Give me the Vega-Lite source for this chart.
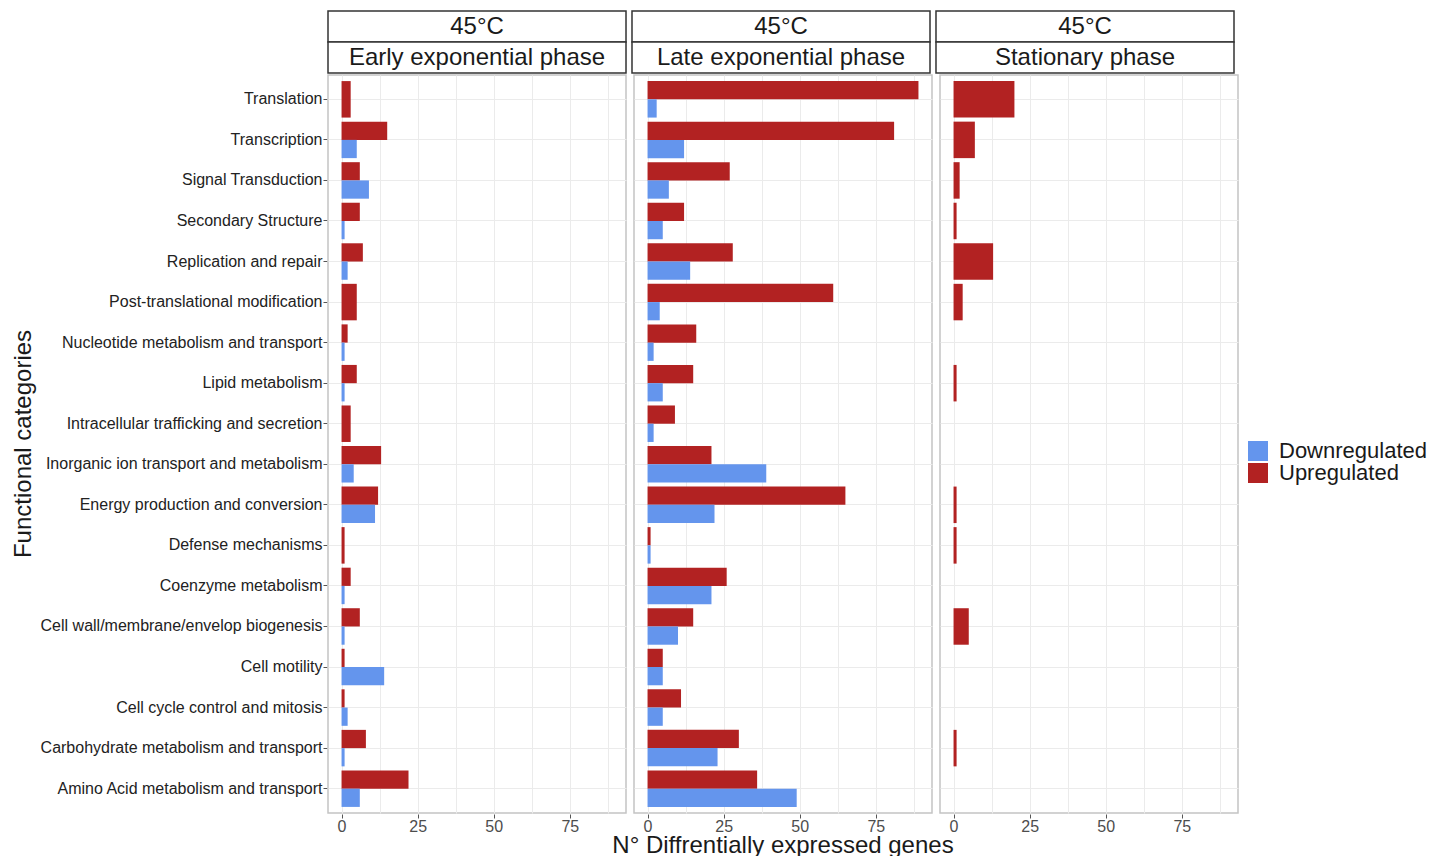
{
  "$schema": "https://vega.github.io/schema/vega-lite/v6.json",
  "padding": {"left": 12, "top": 10, "right": 5, "bottom": 0},
  "background": "white",
  "config": {
    "font": "Liberation Sans",
    "view": {"stroke": "#c4c4c4", "strokeWidth": 1.5},
    "axis": {"titleFontWeight": "normal"}
  },
  "datasets": {
    "strips": [
      {"phase": "Early exponential phase", "level": "temp", "label": "45°C"},
      {"phase": "Early exponential phase", "level": "phase", "label": "Early exponential phase"},
      {"phase": "Late exponential phase", "level": "temp", "label": "45°C"},
      {"phase": "Late exponential phase", "level": "phase", "label": "Late exponential phase"},
      {"phase": "Stationary phase", "level": "temp", "label": "45°C"},
      {"phase": "Stationary phase", "level": "phase", "label": "Stationary phase"}
    ],
    "genes": [
      {"temp": "45°C", "phase": "Early exponential phase", "category": "Translation", "status": "Upregulated", "genes": 3},
      {"temp": "45°C", "phase": "Early exponential phase", "category": "Transcription", "status": "Upregulated", "genes": 15},
      {"temp": "45°C", "phase": "Early exponential phase", "category": "Transcription", "status": "Downregulated", "genes": 5},
      {"temp": "45°C", "phase": "Early exponential phase", "category": "Signal Transduction", "status": "Upregulated", "genes": 6},
      {"temp": "45°C", "phase": "Early exponential phase", "category": "Signal Transduction", "status": "Downregulated", "genes": 9},
      {"temp": "45°C", "phase": "Early exponential phase", "category": "Secondary Structure", "status": "Upregulated", "genes": 6},
      {"temp": "45°C", "phase": "Early exponential phase", "category": "Secondary Structure", "status": "Downregulated", "genes": 1},
      {"temp": "45°C", "phase": "Early exponential phase", "category": "Replication and repair", "status": "Upregulated", "genes": 7},
      {"temp": "45°C", "phase": "Early exponential phase", "category": "Replication and repair", "status": "Downregulated", "genes": 2},
      {"temp": "45°C", "phase": "Early exponential phase", "category": "Post-translational modification", "status": "Upregulated", "genes": 5},
      {"temp": "45°C", "phase": "Early exponential phase", "category": "Nucleotide metabolism and transport", "status": "Upregulated", "genes": 2},
      {"temp": "45°C", "phase": "Early exponential phase", "category": "Nucleotide metabolism and transport", "status": "Downregulated", "genes": 1},
      {"temp": "45°C", "phase": "Early exponential phase", "category": "Lipid metabolism", "status": "Upregulated", "genes": 5},
      {"temp": "45°C", "phase": "Early exponential phase", "category": "Lipid metabolism", "status": "Downregulated", "genes": 1},
      {"temp": "45°C", "phase": "Early exponential phase", "category": "Intracellular trafficking and secretion", "status": "Upregulated", "genes": 3},
      {"temp": "45°C", "phase": "Early exponential phase", "category": "Inorganic ion transport and metabolism", "status": "Upregulated", "genes": 13},
      {"temp": "45°C", "phase": "Early exponential phase", "category": "Inorganic ion transport and metabolism", "status": "Downregulated", "genes": 4},
      {"temp": "45°C", "phase": "Early exponential phase", "category": "Energy production and conversion", "status": "Upregulated", "genes": 12},
      {"temp": "45°C", "phase": "Early exponential phase", "category": "Energy production and conversion", "status": "Downregulated", "genes": 11},
      {"temp": "45°C", "phase": "Early exponential phase", "category": "Defense mechanisms", "status": "Upregulated", "genes": 1},
      {"temp": "45°C", "phase": "Early exponential phase", "category": "Coenzyme metabolism", "status": "Upregulated", "genes": 3},
      {"temp": "45°C", "phase": "Early exponential phase", "category": "Coenzyme metabolism", "status": "Downregulated", "genes": 1},
      {"temp": "45°C", "phase": "Early exponential phase", "category": "Cell wall/membrane/envelop biogenesis", "status": "Upregulated", "genes": 6},
      {"temp": "45°C", "phase": "Early exponential phase", "category": "Cell wall/membrane/envelop biogenesis", "status": "Downregulated", "genes": 1},
      {"temp": "45°C", "phase": "Early exponential phase", "category": "Cell motility", "status": "Upregulated", "genes": 1},
      {"temp": "45°C", "phase": "Early exponential phase", "category": "Cell motility", "status": "Downregulated", "genes": 14},
      {"temp": "45°C", "phase": "Early exponential phase", "category": "Cell cycle control and mitosis", "status": "Upregulated", "genes": 1},
      {"temp": "45°C", "phase": "Early exponential phase", "category": "Cell cycle control and mitosis", "status": "Downregulated", "genes": 2},
      {"temp": "45°C", "phase": "Early exponential phase", "category": "Carbohydrate metabolism and transport", "status": "Upregulated", "genes": 8},
      {"temp": "45°C", "phase": "Early exponential phase", "category": "Carbohydrate metabolism and transport", "status": "Downregulated", "genes": 1},
      {"temp": "45°C", "phase": "Early exponential phase", "category": "Amino Acid metabolism and transport", "status": "Upregulated", "genes": 22},
      {"temp": "45°C", "phase": "Early exponential phase", "category": "Amino Acid metabolism and transport", "status": "Downregulated", "genes": 6},

      {"temp": "45°C", "phase": "Late exponential phase", "category": "Translation", "status": "Upregulated", "genes": 89},
      {"temp": "45°C", "phase": "Late exponential phase", "category": "Translation", "status": "Downregulated", "genes": 3},
      {"temp": "45°C", "phase": "Late exponential phase", "category": "Transcription", "status": "Upregulated", "genes": 81},
      {"temp": "45°C", "phase": "Late exponential phase", "category": "Transcription", "status": "Downregulated", "genes": 12},
      {"temp": "45°C", "phase": "Late exponential phase", "category": "Signal Transduction", "status": "Upregulated", "genes": 27},
      {"temp": "45°C", "phase": "Late exponential phase", "category": "Signal Transduction", "status": "Downregulated", "genes": 7},
      {"temp": "45°C", "phase": "Late exponential phase", "category": "Secondary Structure", "status": "Upregulated", "genes": 12},
      {"temp": "45°C", "phase": "Late exponential phase", "category": "Secondary Structure", "status": "Downregulated", "genes": 5},
      {"temp": "45°C", "phase": "Late exponential phase", "category": "Replication and repair", "status": "Upregulated", "genes": 28},
      {"temp": "45°C", "phase": "Late exponential phase", "category": "Replication and repair", "status": "Downregulated", "genes": 14},
      {"temp": "45°C", "phase": "Late exponential phase", "category": "Post-translational modification", "status": "Upregulated", "genes": 61},
      {"temp": "45°C", "phase": "Late exponential phase", "category": "Post-translational modification", "status": "Downregulated", "genes": 4},
      {"temp": "45°C", "phase": "Late exponential phase", "category": "Nucleotide metabolism and transport", "status": "Upregulated", "genes": 16},
      {"temp": "45°C", "phase": "Late exponential phase", "category": "Nucleotide metabolism and transport", "status": "Downregulated", "genes": 2},
      {"temp": "45°C", "phase": "Late exponential phase", "category": "Lipid metabolism", "status": "Upregulated", "genes": 15},
      {"temp": "45°C", "phase": "Late exponential phase", "category": "Lipid metabolism", "status": "Downregulated", "genes": 5},
      {"temp": "45°C", "phase": "Late exponential phase", "category": "Intracellular trafficking and secretion", "status": "Upregulated", "genes": 9},
      {"temp": "45°C", "phase": "Late exponential phase", "category": "Intracellular trafficking and secretion", "status": "Downregulated", "genes": 2},
      {"temp": "45°C", "phase": "Late exponential phase", "category": "Inorganic ion transport and metabolism", "status": "Upregulated", "genes": 21},
      {"temp": "45°C", "phase": "Late exponential phase", "category": "Inorganic ion transport and metabolism", "status": "Downregulated", "genes": 39},
      {"temp": "45°C", "phase": "Late exponential phase", "category": "Energy production and conversion", "status": "Upregulated", "genes": 65},
      {"temp": "45°C", "phase": "Late exponential phase", "category": "Energy production and conversion", "status": "Downregulated", "genes": 22},
      {"temp": "45°C", "phase": "Late exponential phase", "category": "Defense mechanisms", "status": "Upregulated", "genes": 1},
      {"temp": "45°C", "phase": "Late exponential phase", "category": "Defense mechanisms", "status": "Downregulated", "genes": 1},
      {"temp": "45°C", "phase": "Late exponential phase", "category": "Coenzyme metabolism", "status": "Upregulated", "genes": 26},
      {"temp": "45°C", "phase": "Late exponential phase", "category": "Coenzyme metabolism", "status": "Downregulated", "genes": 21},
      {"temp": "45°C", "phase": "Late exponential phase", "category": "Cell wall/membrane/envelop biogenesis", "status": "Upregulated", "genes": 15},
      {"temp": "45°C", "phase": "Late exponential phase", "category": "Cell wall/membrane/envelop biogenesis", "status": "Downregulated", "genes": 10},
      {"temp": "45°C", "phase": "Late exponential phase", "category": "Cell motility", "status": "Upregulated", "genes": 5},
      {"temp": "45°C", "phase": "Late exponential phase", "category": "Cell motility", "status": "Downregulated", "genes": 5},
      {"temp": "45°C", "phase": "Late exponential phase", "category": "Cell cycle control and mitosis", "status": "Upregulated", "genes": 11},
      {"temp": "45°C", "phase": "Late exponential phase", "category": "Cell cycle control and mitosis", "status": "Downregulated", "genes": 5},
      {"temp": "45°C", "phase": "Late exponential phase", "category": "Carbohydrate metabolism and transport", "status": "Upregulated", "genes": 30},
      {"temp": "45°C", "phase": "Late exponential phase", "category": "Carbohydrate metabolism and transport", "status": "Downregulated", "genes": 23},
      {"temp": "45°C", "phase": "Late exponential phase", "category": "Amino Acid metabolism and transport", "status": "Upregulated", "genes": 36},
      {"temp": "45°C", "phase": "Late exponential phase", "category": "Amino Acid metabolism and transport", "status": "Downregulated", "genes": 49},

      {"temp": "45°C", "phase": "Stationary phase", "category": "Translation", "status": "Upregulated", "genes": 20},
      {"temp": "45°C", "phase": "Stationary phase", "category": "Transcription", "status": "Upregulated", "genes": 7},
      {"temp": "45°C", "phase": "Stationary phase", "category": "Signal Transduction", "status": "Upregulated", "genes": 2},
      {"temp": "45°C", "phase": "Stationary phase", "category": "Secondary Structure", "status": "Upregulated", "genes": 1},
      {"temp": "45°C", "phase": "Stationary phase", "category": "Replication and repair", "status": "Upregulated", "genes": 13},
      {"temp": "45°C", "phase": "Stationary phase", "category": "Post-translational modification", "status": "Upregulated", "genes": 3},
      {"temp": "45°C", "phase": "Stationary phase", "category": "Lipid metabolism", "status": "Upregulated", "genes": 1},
      {"temp": "45°C", "phase": "Stationary phase", "category": "Energy production and conversion", "status": "Upregulated", "genes": 1},
      {"temp": "45°C", "phase": "Stationary phase", "category": "Defense mechanisms", "status": "Upregulated", "genes": 1},
      {"temp": "45°C", "phase": "Stationary phase", "category": "Cell wall/membrane/envelop biogenesis", "status": "Upregulated", "genes": 5},
      {"temp": "45°C", "phase": "Stationary phase", "category": "Carbohydrate metabolism and transport", "status": "Upregulated", "genes": 1}
    ]
  },
  "spacing": 0,
  "vconcat": [
    {
      "data": {"name": "strips"},
      "width": 906,
      "height": 62,
      "view": {"stroke": null},
      "encoding": {
        "x": {"field": "phase", "type": "nominal", "sort": ["Early exponential phase", "Late exponential phase", "Stationary phase"], "scale": {"paddingInner": 0.0197, "paddingOuter": 0}, "axis": null},
        "y": {"field": "level", "type": "nominal", "sort": ["temp", "phase"], "scale": {"paddingInner": 0, "paddingOuter": 0}, "axis": null}
      },
      "layer": [
        {"mark": {"type": "rect", "fill": "white", "stroke": "#333333", "strokeWidth": 1.5}},
        {"mark": {"type": "text", "fontSize": 24, "color": "#1a1a1a", "font": "Liberation Sans"}, "encoding": {"text": {"field": "label"}}}
      ]
    },
    {
      "data": {"name": "genes"},
      "transform": [{"joinaggregate": [{"op": "count", "as": "k"}], "groupby": ["phase", "category"]}],
      "facet": {
        "column": {
          "field": "phase", "type": "nominal",
          "sort": ["Early exponential phase", "Late exponential phase", "Stationary phase"],
          "title": "N° Diffrentially expressed genes",
          "header": {"labels": false, "titleOrient": "bottom", "titleFontSize": 24, "titleFontWeight": "normal", "titleColor": "#1a1a1a", "titleFont": "Liberation Sans", "titlePadding": -10}
        },
        "row": {
          "field": "temp", "type": "nominal",
          "title": "Functional categories",
          "header": {"labels": false, "titleOrient": "left", "titleFontSize": 24, "titleFontWeight": "normal", "titleColor": "#1a1a1a", "titleFont": "Liberation Sans", "titlePadding": -6}
        }
      },
      "spacing": 6,
      "spec": {
        "width": 298,
        "height": 738,
        "encoding": {
          "x": {
            "field": "genes", "type": "quantitative",
            "scale": {"domain": [-4.45, 93.45], "nice": false},
            "title": null,
            "axis": {
              "values": [0, 12.5, 25, 37.5, 50, 62.5, 75, 87.5],
              "labelExpr": "datum.value % 25 == 0 ? datum.label : ''",
              "tickOpacity": {"condition": {"test": "datum.value % 25 != 0", "value": 0}, "value": 1},
              "gridColor": "#ebebeb",
              "domain": false,
              "tickColor": "#555555",
              "tickSize": 4,
              "labelFontSize": 16,
              "labelColor": "#4d4d4d",
              "labelPadding": 0,
              "labelFlush": false,
              "labelOverlap": false
            }
          },
          "y": {
            "field": "category", "type": "nominal",
            "sort": ["Translation", "Transcription", "Signal Transduction", "Secondary Structure", "Replication and repair", "Post-translational modification", "Nucleotide metabolism and transport", "Lipid metabolism", "Intracellular trafficking and secretion", "Inorganic ion transport and metabolism", "Energy production and conversion", "Defense mechanisms", "Coenzyme metabolism", "Cell wall/membrane/envelop biogenesis", "Cell motility", "Cell cycle control and mitosis", "Carbohydrate metabolism and transport", "Amino Acid metabolism and transport"],
            "scale": {"paddingInner": 0.1, "paddingOuter": 0.15},
            "title": null,
            "axis": {
              "grid": true,
              "gridColor": "#ebebeb",
              "domain": false,
              "tickColor": "#555555",
              "tickSize": 4,
              "labelFontSize": 16,
              "labelColor": "#222222",
              "labelLimit": 0,
              "labelPadding": 1
            }
          },
          "color": {
            "field": "status", "type": "nominal",
            "scale": {"domain": ["Downregulated", "Upregulated"], "range": ["#6495ED", "#B22222"]},
            "legend": {
              "title": null,
              "orient": "none",
              "legendX": 919,
              "legendY": 429,
              "labelFontSize": 22,
              "labelColor": "#1a1a1a",
              "symbolType": "square",
              "symbolSize": 400,
              "symbolStrokeWidth": 0,
              "rowPadding": 0,
              "labelOffset": 10
            }
          }
        },
        "layer": [
          {
            "transform": [{"filter": "datum.k == 2"}],
            "mark": {"type": "bar"},
            "encoding": {
              "yOffset": {"field": "status", "type": "nominal", "sort": ["Upregulated", "Downregulated"], "scale": {"paddingInner": 0, "paddingOuter": 0}}
            }
          },
          {
            "transform": [{"filter": "datum.k == 1"}],
            "mark": {"type": "bar"},
            "encoding": {}
          }
        ]
      }
    }
  ]
}
